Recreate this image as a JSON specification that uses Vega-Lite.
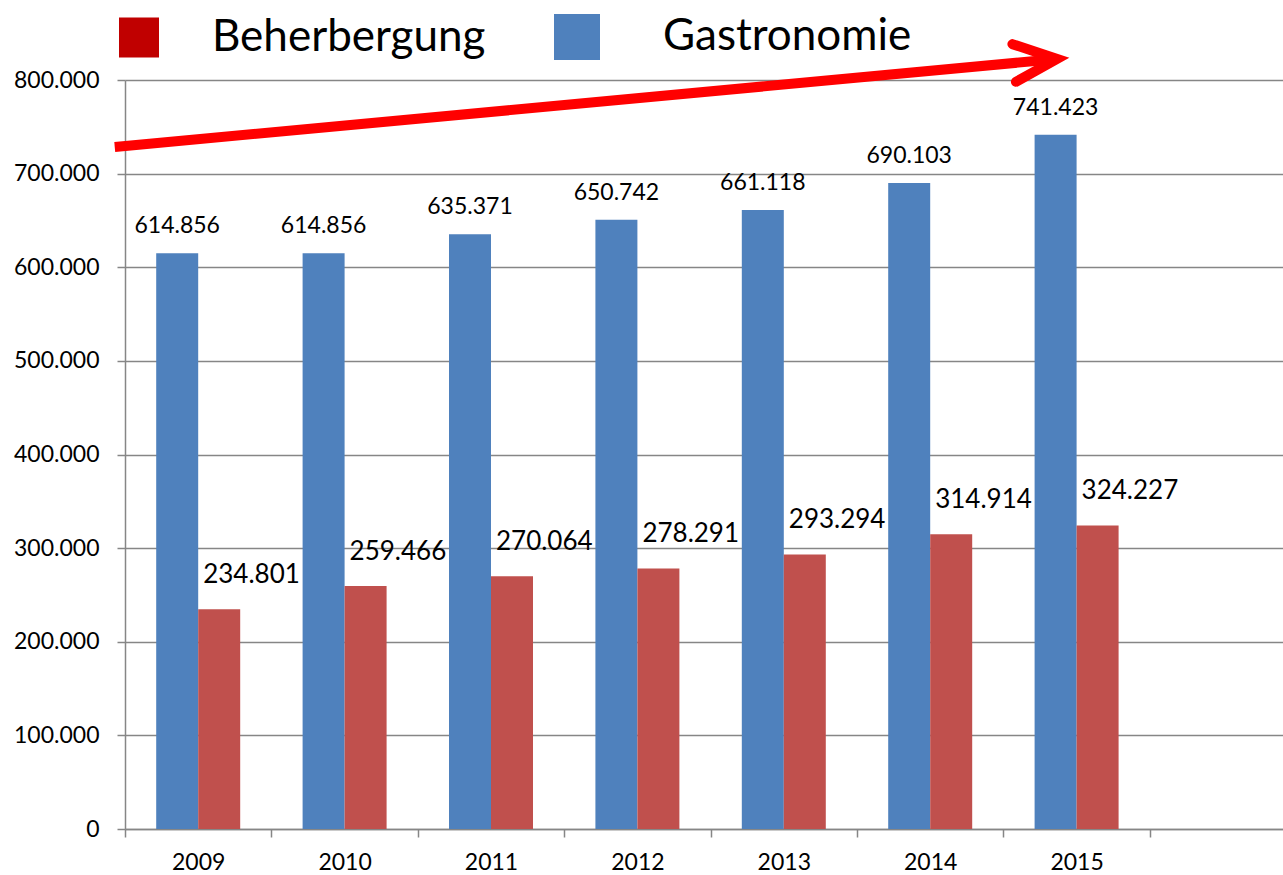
{
  "$schema": "https://vega.github.io/schema/vega-lite/v6.json",
  "width": 1158,
  "height": 749,
  "autosize": {"type": "none"},
  "padding": {"left": 125, "top": 80, "right": 0, "bottom": 46},
  "background": "white",
  "datasets": {
    "bars": [
      {"year": "2009", "series": "Gastronomie", "value": 614856},
      {"year": "2009", "series": "Beherbergung", "value": 234801},
      {"year": "2010", "series": "Gastronomie", "value": 614856},
      {"year": "2010", "series": "Beherbergung", "value": 259466},
      {"year": "2011", "series": "Gastronomie", "value": 635371},
      {"year": "2011", "series": "Beherbergung", "value": 270064},
      {"year": "2012", "series": "Gastronomie", "value": 650742},
      {"year": "2012", "series": "Beherbergung", "value": 278291},
      {"year": "2013", "series": "Gastronomie", "value": 661118},
      {"year": "2013", "series": "Beherbergung", "value": 293294},
      {"year": "2014", "series": "Gastronomie", "value": 690103},
      {"year": "2014", "series": "Beherbergung", "value": 314914},
      {"year": "2015", "series": "Gastronomie", "value": 741423},
      {"year": "2015", "series": "Beherbergung", "value": 324227}
    ],
    "arrow": [
      {"t": 2008.43, "value": 728400, "head": false},
      {"t": 2014.866, "value": 822430, "head": true}
    ]
  },
  "layer": [
    {
      "data": {"name": "bars"},
      "encoding": {
        "x": {
          "field": "year",
          "type": "nominal",
          "scale": {
            "domain": ["2009", "2010", "2011", "2012", "2013", "2014", "2015", ""],
            "range": [0, 1171.2],
            "paddingInner": 0,
            "paddingOuter": 0
          },
          "axis": {
            "title": null,
            "labelAngle": 0,
            "tickBand": "extent",
            "ticks": true,
            "tickSize": 8,
            "tickWidth": 1.5,
            "tickColor": "#868686",
            "domainColor": "#868686",
            "domainWidth": 1.5,
            "grid": false,
            "labelFont": "Lato",
            "labelFontSize": 23,
            "labelColor": "#000000",
            "labelPadding": 14
          }
        },
        "y": {
          "field": "value",
          "type": "quantitative",
          "scale": {"domain": [0, 800000], "nice": false},
          "axis": {
            "title": null,
            "values": [0, 100000, 200000, 300000, 400000, 500000, 600000, 700000, 800000],
            "format": ",.0f",
            "tickSize": 8,
            "tickWidth": 1.5,
            "tickColor": "#868686",
            "domainColor": "#868686",
            "domainWidth": 1.5,
            "grid": true,
            "gridColor": "#868686",
            "gridWidth": 1.5,
            "labelFont": "Lato",
            "labelFontSize": 23,
            "labelColor": "#000000",
            "labelPadding": 18
          }
        },
        "xOffset": {
          "field": "series",
          "type": "nominal",
          "scale": {"domain": ["Gastronomie", "Beherbergung"], "paddingInner": 0, "paddingOuter": 0.743}
        }
      },
      "layer": [
        {
          "mark": {"type": "bar"},
          "encoding": {
            "color": {
              "field": "series",
              "type": "nominal",
              "scale": {"domain": ["Beherbergung", "Gastronomie"], "range": ["#C0504D", "#4F81BD"]},
              "legend": null
            }
          }
        },
        {
          "mark": {"type": "bar", "strokeWidth": 0},
          "encoding": {
            "y2": {"field": "value"},
            "color": {
              "field": "series",
              "type": "nominal",
              "scale": {"domain": ["Beherbergung", "Gastronomie"], "range": ["#C00000", "#4F81BD"]},
              "legend": {
                "orient": "none",
                "legendX": -9,
                "legendY": -66,
                "direction": "horizontal",
                "title": null,
                "symbolType": "square",
                "symbolSize": 2116,
                "symbolStrokeWidth": 0,
                "labelFont": "Lato",
                "labelFontSize": 44,
                "labelColor": "#000000",
                "labelLimit": 600,
                "labelOffset": 50,
                "columnPadding": 68,
                "padding": 0,
                "encode": {
                  "symbols": {
                    "update": {
                      "size": {"signal": "datum.value === 'Beherbergung' ? 1600 : 2116"}
                    }
                  },
                  "labels": {
                    "update": {
                      "dx": {"signal": "datum.value === 'Gastronomie' ? 13 : 0"}
                    }
                  }
                }
              }
            }
          }
        },
        {
          "transform": [{"filter": "datum.series === 'Gastronomie'"}],
          "mark": {"type": "text", "font": "Lato", "fontSize": 23, "color": "#000000", "baseline": "middle", "align": "center", "dy": -27},
          "encoding": {"text": {"field": "value", "type": "quantitative", "format": ",.0f"}}
        },
        {
          "transform": [{"filter": "datum.series === 'Beherbergung'"}],
          "mark": {"type": "text", "font": "Lato", "fontSize": 26, "color": "#000000", "baseline": "middle", "align": "left", "dx": -16, "dy": -34},
          "encoding": {"text": {"field": "value", "type": "quantitative", "format": ",.0f"}}
        }
      ],
      "resolve": {"scale": {"color": "independent"}, "legend": {"color": "independent"}}
    },
    {
      "data": {"name": "arrow"},
      "encoding": {
        "x": {"field": "t", "type": "quantitative", "scale": {"domain": [2008.5, 2016.4098], "nice": false, "zero": false}, "axis": null},
        "y": {"field": "value", "type": "quantitative", "scale": {"domain": [0, 800000], "nice": false}}
      },
      "layer": [
        {"mark": {"type": "line", "color": "#FF0000", "strokeWidth": 10, "strokeCap": "butt"}},
        {
          "transform": [{"filter": "datum.head"}],
          "mark": {"type": "point", "shape": "M-1,-0.44L0,0L-1,0.44", "size": 7396, "angle": -5.3, "filled": false, "color": "#FF0000", "stroke": "#FF0000", "strokeWidth": 10, "strokeCap": "round", "strokeJoin": "miter", "opacity": 1}
        }
      ]
    }
  ],
  "resolve": {"scale": {"x": "independent"}, "axis": {"x": "independent"}},
  "config": {
    "view": {"stroke": null},
    "locale": {"number": {"decimal": ",", "thousands": ".", "grouping": [3], "currency": ["", " €"]}}
  }
}
